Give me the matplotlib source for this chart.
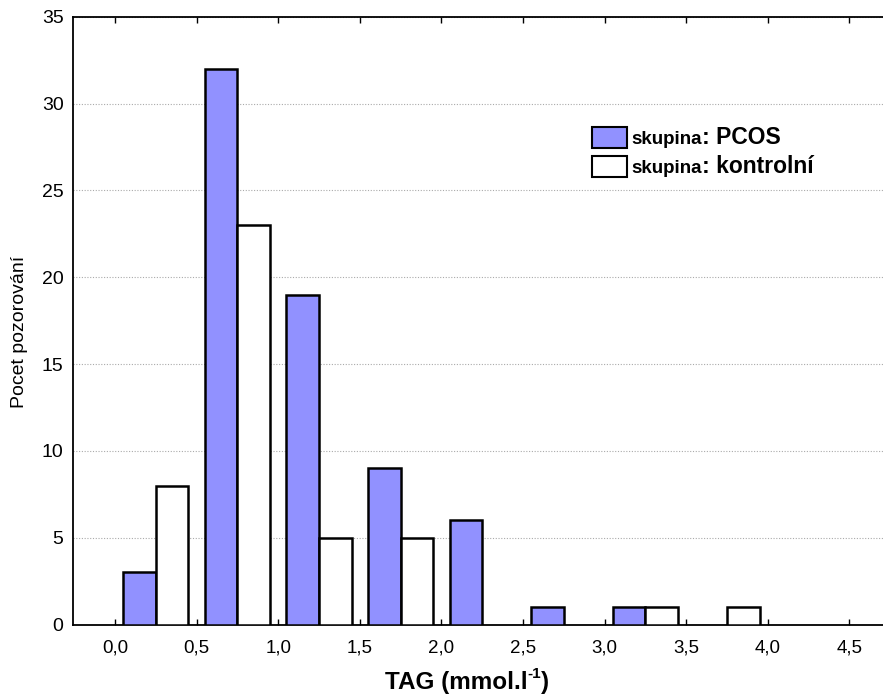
import matplotlib
matplotlib.use("Agg")
import matplotlib.pyplot as plt
from matplotlib.patches import Rectangle
import numpy as np

plt.rcParams['font.family'] = ['Liberation Sans', 'DejaVu Sans']

bin_starts = [0.0, 0.5, 1.0, 1.5, 2.0, 2.5, 3.0, 3.5, 4.0]
pcos = [3, 32, 19, 9, 6, 1, 1, 0, 0]
kontrolni = [8, 23, 5, 5, 0, 0, 1, 1, 0]
series_names = ["PCOS", "kontrolní"]
series_colors = ["#9191ff", "#ffffff"]
xticks = [0.0, 0.5, 1.0, 1.5, 2.0, 2.5, 3.0, 3.5, 4.0, 4.5]
xticklabels = ["0,0", "0,5", "1,0", "1,5", "2,0", "2,5", "3,0", "3,5", "4,0", "4,5"]
yticks = [0, 5, 10, 15, 20, 25, 30, 35]
ylabel = "Pocet pozorování"
xlabel_main = "TAG (mmol.l"
xlabel_sup = "-1"
xlabel_end = ")"
legend_prefix = "skupina"

W, H = 883, 699
fig = plt.figure(figsize=(W / 100, H / 100), dpi=100)
ax = fig.add_axes([73.3 / W, 1 - 624.5 / H, (W - 73.3) / W, (624.5 - 16.7) / H])

bw = 0.2
x = np.array(bin_starts)
for vals, off, col in [(pcos, 0.05, series_colors[0]), (kontrolni, 0.25, series_colors[1])]:
    v = np.array(vals)
    m = v > 0
    ax.bar(x[m] + off, v[m], width=bw, align='edge', color=col,
           edgecolor='black', linewidth=1.8, zorder=3)

ax.set_xlim(-0.255, 4.706)
ax.set_ylim(0, 35)
ax.set_xticks(xticks)
ax.set_xticklabels(xticklabels, fontsize=13.5)
ax.set_yticks(yticks)
ax.set_yticklabels([str(t) for t in yticks], fontsize=14)
ax.tick_params(axis='x', direction='in', length=4, width=1, top=True, pad=11)
ax.tick_params(axis='y', length=0, pad=7)
ax.yaxis.grid(True, linestyle=(0, (1, 1.5)), color='#aaaaaa', linewidth=0.8, zorder=0)
ax.set_axisbelow(True)
for s in ['left', 'bottom', 'top']:
    ax.spines[s].set_linewidth(1.3)
ax.spines['right'].set_visible(False)

fig.text(20 / W, 1 - 332 / H, ylabel, fontsize=14, rotation=90, ha='center', va='center')

# x label with superscript
fig.canvas.draw()
r = fig.canvas.get_renderer()
base_y = 1 - 688.5 / H
t_main = fig.text(0, base_y, xlabel_main, fontsize=17.5, fontweight='bold', va='baseline')
t_sup = fig.text(0, base_y + 10.5 / H, xlabel_sup, fontsize=11, fontweight='bold', va='baseline')
t_end = fig.text(0, base_y, xlabel_end, fontsize=17.5, fontweight='bold', va='baseline')
w1 = t_main.get_window_extent(r).width
w2 = t_sup.get_window_extent(r).width
w3 = t_end.get_window_extent(r).width
total = w1 + w2 + w3
x0 = 467 - total / 2
t_main.set_x(x0 / W)
t_sup.set_x((x0 + w1) / W)
t_end.set_x((x0 + w1 + w2) / W)

# legend
for i, (name, col) in enumerate(zip(series_names, series_colors)):
    y0 = 126.7 + i * 29
    fig.patches.append(Rectangle((591.7 / W, 1 - (y0 + 21.5) / H), 35 / W, 21.5 / H,
                                 transform=fig.transFigure, facecolor=col,
                                 edgecolor='black', linewidth=1.5))
    t1 = fig.text(631.5 / W, 1 - (y0 + 17) / H, legend_prefix, fontsize=13.5, fontweight='bold',
                  va='baseline', ha='left')
    bb = t1.get_window_extent(r)
    fig.text(bb.x1 / W, 1 - (y0 + 17) / H, ": " + name, fontsize=16.5, fontweight='bold',
             va='baseline', ha='left')

fig.savefig("out.png", dpi=100)
